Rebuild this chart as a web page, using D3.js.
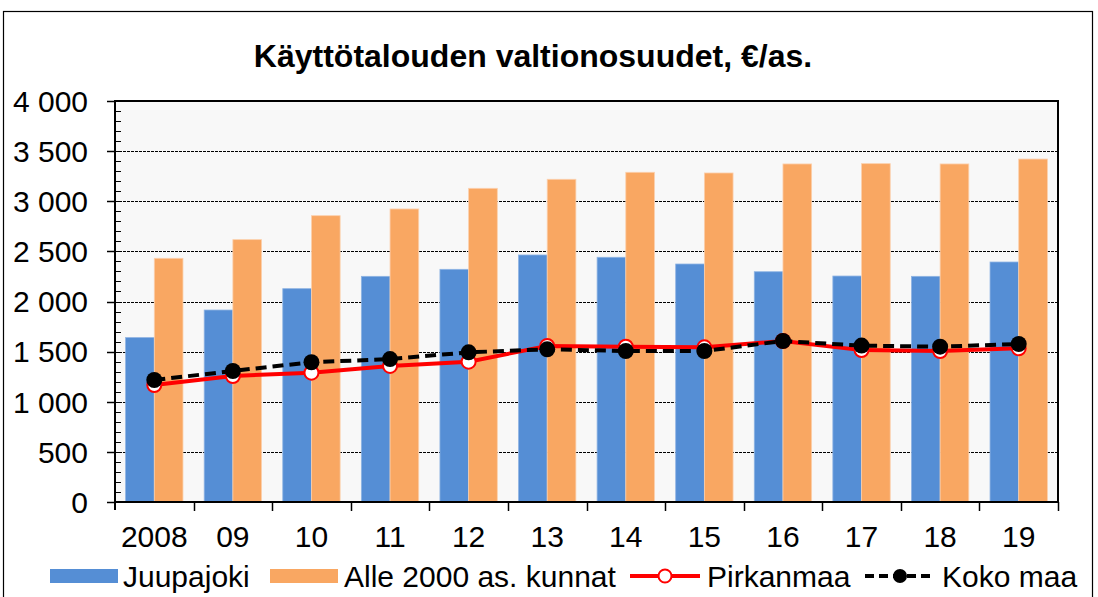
<!DOCTYPE html>
<html>
<head>
<meta charset="utf-8">
<script src="https://cdn.jsdelivr.net/npm/d3@7"></script>
<style>
  body { margin: 0; background: #fff; }
  svg { display: block; font-family: "Liberation Sans", Arial, sans-serif; }
</style>
</head>
<body>
<div id="chart"></div>
<script>
// data
var years = ["2008", "09", "10", "11", "12", "13", "14", "15", "16", "17", "18", "19"];
var juupajoki = [1640, 1915, 2128, 2251, 2321, 2464, 2441, 2374, 2297, 2254, 2251, 2394];
var alle2000 = [2431, 2617, 2856, 2923, 3129, 3219, 3289, 3282, 3372, 3375, 3372, 3421];
var pirkanmaa = [1167, 1257, 1290, 1357, 1400, 1556, 1549, 1543, 1606, 1515, 1506, 1533];
var kokoMaa = [1217, 1307, 1394, 1426, 1493, 1523, 1506, 1506, 1606, 1560, 1549, 1576];
var yTicks = [0, 500, 1000, 1500, 2000, 2500, 3000, 3500, 4000];

var svgWidth = 1098;
var svgHeight = 597;

var plot = { left: 115, right: 1058, top: 101, bottom: 502 };
var fontSize = 30;

var svg = d3.select("#chart")
  .append("svg")
  .attr("width", svgWidth)
  .attr("height", svgHeight);

// outer frame
svg.append("rect")
  .attr("x", 3.5).attr("y", 11.5)
  .attr("width", 1089).attr("height", 600)
  .attr("fill", "none")
  .attr("stroke", "#000")
  .attr("stroke-width", 1.2);

// title
svg.append("text")
  .attr("x", 533).attr("y", 67)
  .attr("text-anchor", "middle")
  .attr("font-size", 32)
  .attr("font-weight", "bold")
  .text("Käyttötalouden valtionosuudet, €/as.");

// scales
var x = d3.scaleBand()
  .domain(years)
  .range([plot.left, plot.right])
  .padding(0);

var x1 = d3.scaleBand()
  .domain(["juupajoki", "alle2000"])
  .range([0, x.bandwidth()])
  .paddingInner(0)
  .paddingOuter(0.37);

var y = d3.scaleLinear()
  .domain([0, 4000])
  .range([plot.bottom, plot.top]);

var fiLocale = d3.formatLocale({ decimal: ",", thousands: " ", grouping: [3], currency: ["", "€"] });
var fmt = fiLocale.format(",");

// plot background
svg.append("rect")
  .attr("x", plot.left).attr("y", plot.top)
  .attr("width", plot.right - plot.left)
  .attr("height", plot.bottom - plot.top)
  .attr("fill", "#f8f8f8");

// gridlines
svg.append("g")
  .selectAll("line")
  .data(yTicks.filter(d => d > 0 && d < 4000))
  .enter()
  .append("line")
  .attr("x1", plot.left).attr("x2", plot.right)
  .attr("y1", d => Math.round(y(d)) + 0.5)
  .attr("y2", d => Math.round(y(d)) + 0.5)
  .attr("stroke", "#000")
  .attr("stroke-width", 1)
  .attr("stroke-dasharray", "3,1");

// bars
var groups = svg.append("g")
  .selectAll("g")
  .data(years)
  .enter()
  .append("g")
  .attr("transform", d => `translate(${x(d)},0)`);

groups.append("rect")
  .attr("x", x1("juupajoki"))
  .attr("y", (d, i) => y(juupajoki[i]))
  .attr("width", x1.bandwidth())
  .attr("height", (d, i) => y(0) - y(juupajoki[i]))
  .attr("fill", "#558ed5")
  .attr("stroke", "#8fb4e3")
  .attr("stroke-width", 0.8);

groups.append("rect")
  .attr("x", x1("alle2000"))
  .attr("y", (d, i) => y(alle2000[i]))
  .attr("width", x1.bandwidth())
  .attr("height", (d, i) => y(0) - y(alle2000[i]))
  .attr("fill", "#f9a762")
  .attr("stroke", "#fcd0ad")
  .attr("stroke-width", 0.8);

// plot frame (top and right)
svg.append("path")
  .attr("d", `M${plot.left},${plot.top}H${plot.right}V${plot.bottom}`)
  .attr("fill", "none")
  .attr("stroke", "#000")
  .attr("stroke-width", 2);

// lines
var cx = (d, i) => x(years[i]) + x.bandwidth() / 2;

var line = d3.line()
  .x((d, i) => cx(d, i))
  .y(d => y(d));

svg.append("path")
  .datum(pirkanmaa)
  .attr("d", line)
  .attr("fill", "none")
  .attr("stroke", "#ff0000")
  .attr("stroke-width", 4);

svg.append("g")
  .selectAll("circle")
  .data(pirkanmaa)
  .enter()
  .append("circle")
  .attr("cx", cx)
  .attr("cy", d => y(d))
  .attr("r", 7)
  .attr("fill", "#fff")
  .attr("stroke", "#ff0000")
  .attr("stroke-width", 2);

svg.append("path")
  .datum(kokoMaa)
  .attr("d", line)
  .attr("fill", "none")
  .attr("stroke", "#000")
  .attr("stroke-width", 4)
  .attr("stroke-dasharray", "11,6");

svg.append("g")
  .selectAll("circle")
  .data(kokoMaa)
  .enter()
  .append("circle")
  .attr("cx", cx)
  .attr("cy", d => y(d))
  .attr("r", 8)
  .attr("fill", "#000");

// y axis
var yAxis = svg.append("g");
yAxis.append("line")
  .attr("x1", plot.left).attr("x2", plot.left)
  .attr("y1", plot.top - 1).attr("y2", plot.bottom + 8)
  .attr("stroke", "#000").attr("stroke-width", 2);

yAxis.selectAll("line.minor")
  .data(d3.range(0, 4001, 100))
  .enter()
  .append("line")
  .attr("class", "minor")
  .attr("x1", plot.left).attr("x2", plot.left + 6)
  .attr("y1", d => Math.round(y(d)) + 0.5)
  .attr("y2", d => Math.round(y(d)) + 0.5)
  .attr("stroke", "#000").attr("stroke-width", 1);

yAxis.selectAll("line.major")
  .data(yTicks)
  .enter()
  .append("line")
  .attr("class", "major")
  .attr("x1", plot.left - 8).attr("x2", plot.left)
  .attr("y1", d => Math.round(y(d)) + 0.5)
  .attr("y2", d => Math.round(y(d)) + 0.5)
  .attr("stroke", "#000").attr("stroke-width", 1.5);

yAxis.selectAll("text")
  .data(yTicks)
  .enter()
  .append("text")
  .attr("x", 88)
  .attr("y", d => y(d))
  .attr("dy", "0.36em")
  .attr("text-anchor", "end")
  .attr("font-size", fontSize)
  .text(d => fmt(d));

// x axis
var xAxis = svg.append("g");
xAxis.append("line")
  .attr("x1", plot.left - 1).attr("x2", plot.right)
  .attr("y1", plot.bottom).attr("y2", plot.bottom)
  .attr("stroke", "#000").attr("stroke-width", 2);

xAxis.selectAll("line.tick")
  .data(years)
  .enter()
  .append("line")
  .attr("class", "tick")
  .attr("x1", d => Math.round(x(d) + x.bandwidth()) + 0.5)
  .attr("x2", d => Math.round(x(d) + x.bandwidth()) + 0.5)
  .attr("y1", plot.bottom).attr("y2", plot.bottom + 9)
  .attr("stroke", "#000").attr("stroke-width", 1.5);

xAxis.selectAll("text")
  .data(years)
  .enter()
  .append("text")
  .attr("x", d => x(d) + x.bandwidth() / 2)
  .attr("y", 547)
  .attr("text-anchor", "middle")
  .attr("font-size", fontSize)
  .text(d => d);

// legend
var legend = svg.append("g");
var ly = 576;

legend.append("rect").attr("x", 50).attr("y", ly - 7).attr("width", 68).attr("height", 14).attr("fill", "#558ed5");
legend.append("text").attr("x", 123).attr("y", ly).attr("dy", "0.36em").attr("font-size", fontSize).text("Juupajoki");

legend.append("rect").attr("x", 270).attr("y", ly - 7).attr("width", 68).attr("height", 14).attr("fill", "#f9a762");
legend.append("text").attr("x", 344).attr("y", ly).attr("dy", "0.36em").attr("font-size", fontSize).text("Alle 2000 as. kunnat");

legend.append("line").attr("x1", 630).attr("x2", 700).attr("y1", ly).attr("y2", ly)
  .attr("stroke", "#ff0000").attr("stroke-width", 4);
legend.append("circle").attr("cx", 665).attr("cy", ly).attr("r", 6.5)
  .attr("fill", "#fff").attr("stroke", "#ff0000").attr("stroke-width", 2);
legend.append("text").attr("x", 707).attr("y", ly).attr("dy", "0.36em").attr("font-size", fontSize).text("Pirkanmaa");

legend.append("line").attr("x1", 865).attr("x2", 935).attr("y1", ly).attr("y2", ly)
  .attr("stroke", "#000").attr("stroke-width", 4).attr("stroke-dasharray", "9,5");
legend.append("circle").attr("cx", 900).attr("cy", ly).attr("r", 7).attr("fill", "#000");
legend.append("text").attr("x", 942).attr("y", ly).attr("dy", "0.36em").attr("font-size", fontSize).text("Koko maa");
</script>
</body>
</html>
